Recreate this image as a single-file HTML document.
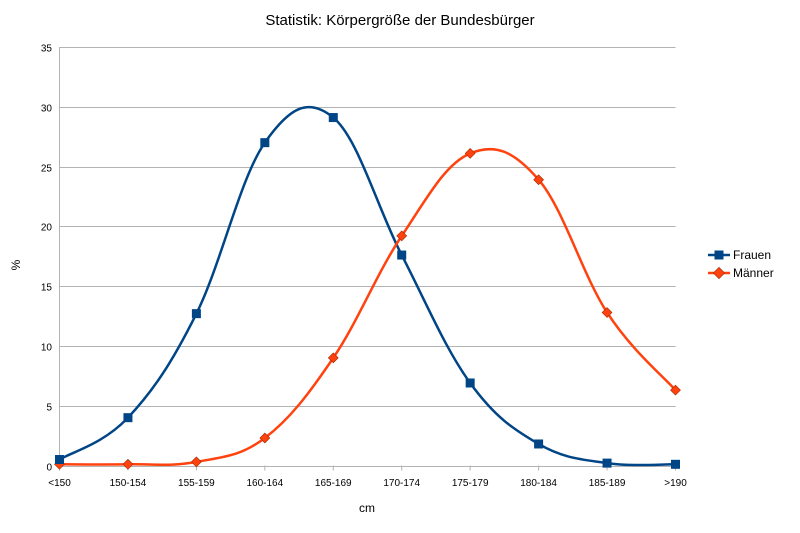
<!DOCTYPE html>
<html><head><meta charset="utf-8"><style>
body{margin:0;background:#fff;}
svg{display:block;font-family:"Liberation Sans",sans-serif;}
</style></head><body>
<svg id="s" width="800" height="533" xmlns="http://www.w3.org/2000/svg">
<rect width="800" height="533" fill="#fff"/>
<text x="400" y="25" text-anchor="middle" font-size="15" fill="#000">Statistik: Körpergröße der Bundesbürger</text>
<g id="grid" stroke="#b3b3b3" stroke-width="1"></g>
<g id="lab" font-size="10" fill="#000"></g>
<text x="367" y="512" text-anchor="middle" font-size="12">cm</text>
<text x="20" y="265" text-anchor="middle" font-size="12" transform="rotate(-90 20 265)">%</text>
<g id="ser"></g>
<g font-size="12">
<line x1="708" y1="255" x2="730" y2="255" stroke="#004586" stroke-width="2.5"/>
<rect x="714.5" y="250.5" width="9" height="9" fill="#004586"/>
<text x="733" y="259">Frauen</text>
<line x1="708" y1="273" x2="730" y2="273" stroke="#ff420e" stroke-width="2.5"/>
<rect x="715" y="269" width="8" height="8" fill="#ff420e" stroke="#a02800" stroke-width="0.6" transform="rotate(45 719 273)"/>
<text x="733" y="277">Männer</text>
</g>
</svg>
<script>
var NS="http://www.w3.org/2000/svg";
function el(p,t,a,txt){var e=document.createElementNS(NS,t);for(var k in a)e.setAttribute(k,a[k]);if(txt!=null)e.textContent=txt;p.appendChild(e);return e;}
var x0=59.5,x1=675.5,y0=465.5,yt=47;
var sc=(y0-yt)/35;
var g=document.getElementById('grid'),l=document.getElementById('lab');
for(var i=0;i<=7;i++){var y=Math.round(y0-i*5*sc)+0.5;
 el(g,'line',{x1:x0,x2:x1,y1:y,y2:y});
 el(l,'text',{x:52,y:y+4,'text-anchor':'end'},String(i*5));}
el(g,'line',{x1:x0,x2:x0,y1:yt,y2:y0});
var cats=['<150','150-154','155-159','160-164','165-169','170-174','175-179','180-184','185-189','>190'];
var dx=(x1-x0)/9;
cats.forEach(function(c,i){var x=x0+i*dx;el(g,'line',{x1:x,x2:x,y1:y0,y2:y0+5});
 el(l,'text',{x:x,y:486,'text-anchor':'middle'},c);});
var F=[0.5,4,12.7,27,29.1,17.6,6.9,1.8,0.2,0.1];
var M=[0.1,0.1,0.3,2.3,9,19.2,26.1,23.9,12.8,6.3];
var s=document.getElementById('ser');
var T=5.5;
function path(d,col){var p=d.map(function(v,i){return[x0+i*dx,y0-v*sc];});
 var str='M'+p[0][0]+','+p[0][1];
 for(var i=0;i<p.length-1;i++){var a=p[Math.max(0,i-1)],b=p[i],c=p[i+1],e=p[Math.min(p.length-1,i+2)];
  var c1=[b[0]+(c[0]-a[0])/T,b[1]+(c[1]-a[1])/T],c2=[c[0]-(e[0]-b[0])/T,c[1]-(e[1]-b[1])/T];
  str+=' C'+c1+' '+c2+' '+c;}
 el(s,'path',{d:str,fill:'none',stroke:col,'stroke-width':2.5});return p;}
var pf=path(F,'#004586');var pm=path(M,'#ff420e');
pm.forEach(function(q){el(s,'rect',{x:q[0]-3.5,y:q[1]-3.5,width:7,height:7,fill:'#ff420e',stroke:'#a02800','stroke-width':0.6,transform:'rotate(45 '+q[0]+' '+q[1]+')'});});
pf.forEach(function(q){el(s,'rect',{x:q[0]-4.5,y:q[1]-4.5,width:9,height:9,fill:'#004586'});});
</script>
</body></html>
